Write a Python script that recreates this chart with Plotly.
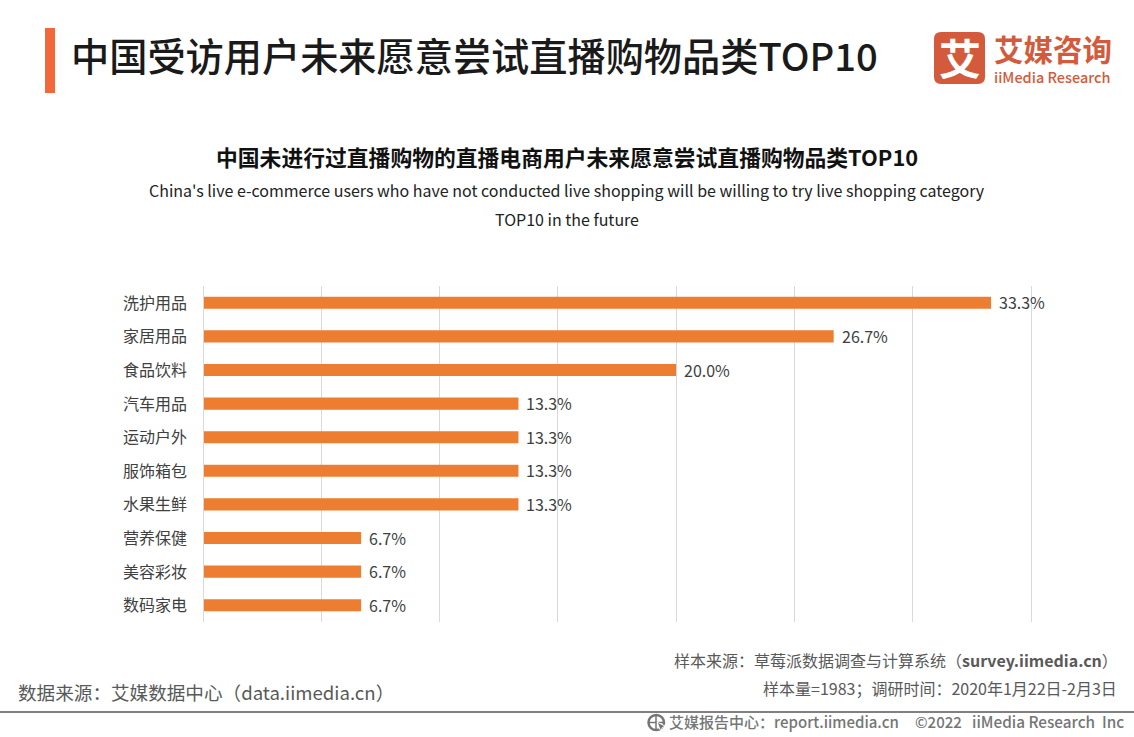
import plotly.graph_objects as go

W, H = 1134, 737
FONT = "Noto Sans CJK SC"

# chart data
categories = ['洗护用品', '家居用品', '食品饮料', '汽车用品', '运动户外',
              '服饰箱包', '水果生鲜', '营养保健', '美容彩妆', '数码家电']
values = [33.33, 26.67, 20.0, 13.33, 13.33, 13.33, 13.33, 6.67, 6.67, 6.67]
x_ticks = [0, 5, 10, 15, 20, 25, 30, 35]

title = '中国受访用户未来愿意尝试直播购物品类TOP10'
chart_title = '中国未进行过直播购物的直播电商用户未来愿意尝试直播购物品类TOP10'
sub_line1 = "China's live e-commerce users who have not conducted live shopping will be willing to try live shopping category"
sub_line2 = 'TOP10 in the future'
source_left = '数据来源：艾媒数据中心（data.iimedia.cn）'
source_right1 = '样本来源：草莓派数据调查与计算系统（<b>survey.iimedia.cn</b>）'
source_right2 = '样本量=1983；调研时间：2020年1月22日-2月3日'
footer = '艾媒报告中心：report.iimedia.cn'
footer2 = '©2022'
footer3 = 'iiMedia Research  Inc'
logo_text = '<span style="font-size:29.5px"><b>艾媒咨询</b></span><br><span style="font-size:14.5px">iiMedia Research</span>'


def fx(p):
    return p / W


def fy(p):
    return 1 - p / H


def label(x, y, text, size, color='#404040', anchor='left', weight=400):
    fig.add_annotation(xref='paper', yref='paper', x=fx(x), y=fy(y), text=text,
                       showarrow=False, xanchor=anchor, yanchor='middle', align=anchor,
                       font=dict(family=FONT, size=size, color=color, weight=weight), borderpad=0, borderwidth=0)


def rect(x0, y0, x1, y1, color):
    fig.add_shape(type='rect', xref='paper', yref='paper', x0=fx(x0), x1=fx(x1), y0=fy(y0), y1=fy(y1),
                  fillcolor=color, line_width=0, layer='below')


def rounded(x0, y0, x1, y1, r, color):
    path = (f'M {fx(x0 + r)} {fy(y0)} L {fx(x1 - r)} {fy(y0)} Q {fx(x1)} {fy(y0)} {fx(x1)} {fy(y0 + r)} '
            f'L {fx(x1)} {fy(y1 - r)} Q {fx(x1)} {fy(y1)} {fx(x1 - r)} {fy(y1)} '
            f'L {fx(x0 + r)} {fy(y1)} Q {fx(x0)} {fy(y1)} {fx(x0)} {fy(y1 - r)} '
            f'L {fx(x0)} {fy(y0 + r)} Q {fx(x0)} {fy(y0)} {fx(x0 + r)} {fy(y0)} Z')
    fig.add_shape(type='path', xref='paper', yref='paper', path=path, fillcolor=color, line_width=0, layer='below')


fig = go.Figure(go.Bar(
    x=values, y=categories, orientation='h',
    marker=dict(color='#ED7D31', line_width=0),
    width=0.36,
    hoverinfo='skip',
))

fig.update_layout(
    width=W, height=H, autosize=False,
    margin=dict(l=0, r=0, t=0, b=0),
    paper_bgcolor='white', plot_bgcolor='white',
    showlegend=False,
    font=dict(family=FONT),
    xaxis=dict(domain=[fx(203.5), fx(1030.5)], range=[0, 35], tickvals=x_ticks,
               showticklabels=False, showgrid=True, gridcolor='#D9D9D9', gridwidth=1,
               zeroline=False, showline=False, ticks=''),
    yaxis=dict(domain=[fy(622), fy(286)], autorange='reversed', type='category',
               showticklabels=False, showgrid=False, zeroline=False,
               showline=True, mirror=True, linecolor='#D9D9D9', linewidth=1, ticks=''),
)

# category and value labels
for cat, val in zip(categories, values):
    fig.add_annotation(xref='paper', x=fx(188.5), y=cat, text=cat, showarrow=False, xanchor='right', yshift=1,
                       font=dict(family=FONT, size=16, color='#404040'))
    fig.add_annotation(x=val, y=cat, text=f'{val:.1f}%', showarrow=False, xanchor='left', xshift=6, yshift=0.5,
                       font=dict(family=FONT, size=16, color='#404040'))

# header
rect(45, 28, 55, 93, '#F2683A')
label(71, 55, title, 38.2, color='#1A1A1A', weight=500)

# logo
rounded(934, 32, 985, 84, 7, '#D35B3C')
label(959.5, 57, '艾', 42, color='white', anchor='center', weight=700)
label(994, 57, logo_text, 17, color='#D35B3C', weight=500)

# chart titles
label(567, 156.5, chart_title, 21.8, color='#111111', anchor='center', weight=700)
label(567, 190, sub_line1, 16, color='#222222', anchor='center')
label(567, 219, sub_line2, 16, color='#222222', anchor='center')

# sources
label(18, 691, source_left, 18.6, color='#595959')
label(1118, 660, source_right1, 16, color='#595959', anchor='right')
label(1116.5, 688, source_right2, 16, color='#595959', anchor='right')

# footer
fig.add_shape(type='line', xref='paper', yref='paper', x0=0, x1=1, y0=fy(712), y1=fy(712),
              line=dict(color='#808080', width=2))
fig.add_shape(type='circle', xref='paper', yref='paper', x0=fx(648.5), x1=fx(664), y0=fy(715), y1=fy(730),
              line=dict(color='#757575', width=2.5))
fig.add_shape(type='line', xref='paper', yref='paper', x0=fx(648.5), x1=fx(664), y0=fy(722.5), y1=fy(722.5),
              line=dict(color='#757575', width=1.5))
fig.add_shape(type='line', xref='paper', yref='paper', x0=fx(656), x1=fx(656), y0=fy(715), y1=fy(730),
              line=dict(color='#757575', width=1.5))
fig.add_shape(type='path', xref='paper', yref='paper', fillcolor='#757575', line=dict(color='white', width=1),
              path=f'M {fx(657)} {fy(722)} L {fx(665)} {fy(726)} L {fx(662)} {fy(728)} L {fx(661)} {fy(732)} Z')
label(669, 721, footer, 15, color='#757575', weight=500)
label(914.5, 721, footer2, 15, color='#757575', weight=500)
label(972, 721, footer3, 15.3, color='#757575', weight=500)

fig.write_html('out.html', config=dict(displayModeBar=False),
               post_script="document.body.style.margin='0';document.body.style.overflow='hidden';")
